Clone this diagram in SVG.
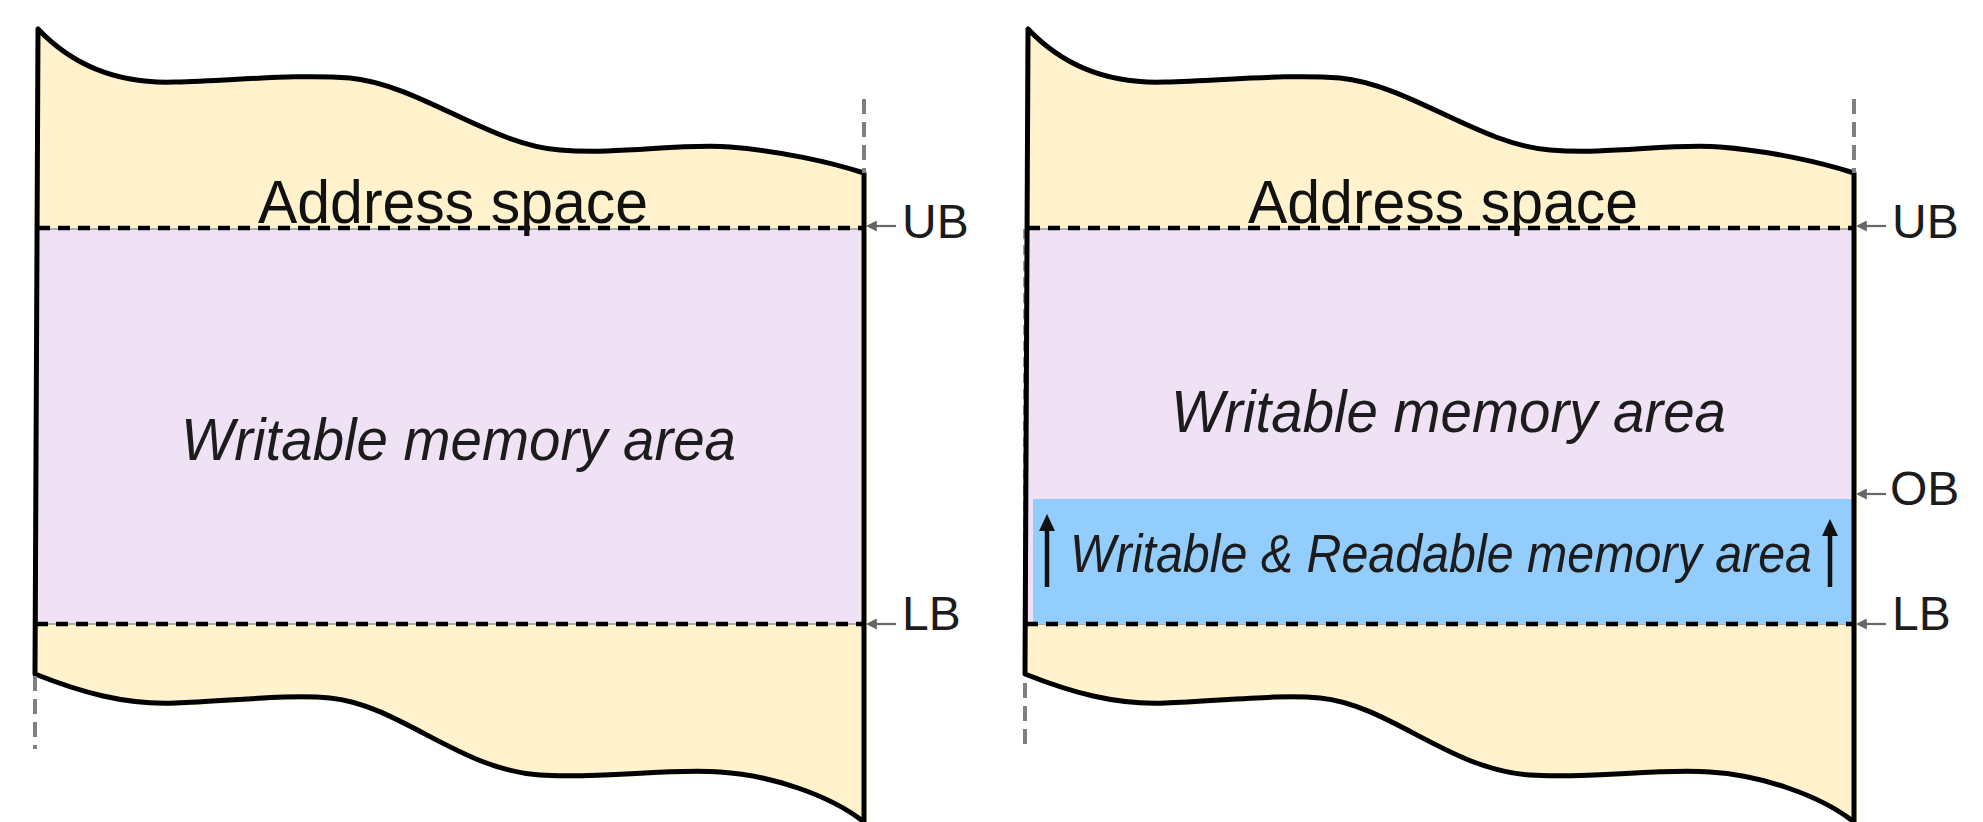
<svg xmlns="http://www.w3.org/2000/svg" width="1983" height="822" viewBox="0 0 1983 822">
<style>
.fill{fill:#FFF2CC;stroke:none}
.outline{fill:none;stroke:#000;stroke-width:5;stroke-linejoin:round}
.mem{fill:#EEE2F4;stroke:#999;stroke-width:1.5}
.rw{fill:#93CDFD;stroke:none}
.bound{stroke:#000;stroke-width:4.5;stroke-dasharray:12 8;fill:none}
.guide{stroke:#808080;stroke-width:4;stroke-dasharray:15 8;fill:none}
.ptr{stroke:#666;stroke-width:2.2;fill:none;marker-end:url(#ah)}
.lbl{font-family:"Liberation Sans",Arial,sans-serif;font-size:48px;fill:#1c1c1c}
.title{font-family:"Liberation Sans",Arial,sans-serif;font-size:62px;fill:#111;text-anchor:middle}
.area{font-family:"Liberation Sans",Arial,sans-serif;font-style:italic;fill:#1c1c1c}
.up{stroke:#111;stroke-width:4.5}
</style>
<defs>
<marker id="ah" viewBox="0 0 10 10" refX="8" refY="5" markerWidth="5" markerHeight="5" orient="auto" markerUnits="strokeWidth">
<path d="M0,0 L10,5 L0,10 Z" fill="#666"/>
</marker>
<path id="shape" d="M35,674 C80,692 125,705 175,703 C230,701 290,694 330,698 C400,705 460,770 540,775 C600,779 670,768 720,772 C770,775 830,795 864,822 L864,173 C830,162 780,151 730,147 C680,143 620,155 560,150 C490,145 420,85 350,78 C300,74 240,80 175,82 C120,84 75,68 38,29 Z"/>
</defs>

<g id="left-space">
<use href="#shape" class="fill" transform="translate(3,3)"/>
<use href="#shape" class="fill"/>
<rect class="mem" x="37" y="229" width="827" height="395"/>
<line class="bound" x1="38" y1="228" x2="864" y2="228"/>
<line class="bound" x1="36" y1="624" x2="864" y2="624"/>
<use href="#shape" class="outline"/>
<line class="guide" x1="864" y1="99" x2="864" y2="173"/>
<line class="guide" x1="35" y1="676" x2="35" y2="749"/>
<text class="title" x="453" y="223" textLength="390" lengthAdjust="spacingAndGlyphs">Address space</text>
<text class="area" x="181" y="460" font-size="60" textLength="555" lengthAdjust="spacingAndGlyphs">Writable memory area</text>
</g>

<g id="right-space">
<g transform="translate(990,0)">
<use href="#shape" class="fill" transform="translate(3,3)"/>
<use href="#shape" class="fill"/>
<rect class="mem" x="37" y="229" width="827" height="395"/>
<rect class="rw" x="43" y="499" width="819" height="125"/>
<line class="bound" x1="38" y1="228" x2="864" y2="228"/>
<line class="bound" x1="36" y1="624" x2="864" y2="624"/>
<line x1="34" y1="229" x2="34" y2="624" stroke="#999" stroke-width="2" stroke-dasharray="10 6"/>
<use href="#shape" class="outline"/>
<line class="guide" x1="864" y1="99" x2="864" y2="173"/>
<line class="guide" x1="35" y1="683" x2="35" y2="749"/>
</g>
<text class="title" x="1443" y="223" textLength="390" lengthAdjust="spacingAndGlyphs">Address space</text>
<text class="area" x="1171" y="432" font-size="60" textLength="555" lengthAdjust="spacingAndGlyphs">Writable memory area</text>
</g>

<g id="rw-area">
<line class="up" x1="1047" y1="587" x2="1047" y2="528"/>
<polygon points="1047,514 1055,531 1039,531" fill="#111"/>
<line class="up" x1="1830" y1="587" x2="1830" y2="533"/>
<polygon points="1830,519 1838,536 1822,536" fill="#111"/>
<text class="area" x="1070" y="572" font-size="54" textLength="742" lengthAdjust="spacingAndGlyphs">Writable &amp; Readable memory area</text>
</g>

<g id="connectors">
<line class="ptr" x1="896" y1="226" x2="868" y2="226"/>
<line class="ptr" x1="896" y1="624" x2="868" y2="624"/>
<line class="ptr" x1="1886" y1="226" x2="1858" y2="226"/>
<line class="ptr" x1="1886" y1="494" x2="1858" y2="494"/>
<line class="ptr" x1="1886" y1="624" x2="1858" y2="624"/>
</g>

<g id="labels">
<text class="lbl" x="902" y="238">UB</text>
<text class="lbl" x="902" y="630">LB</text>
<text class="lbl" x="1892" y="238">UB</text>
<text class="lbl" x="1890" y="505">OB</text>
<text class="lbl" x="1892" y="630">LB</text>
</g>
</svg>
